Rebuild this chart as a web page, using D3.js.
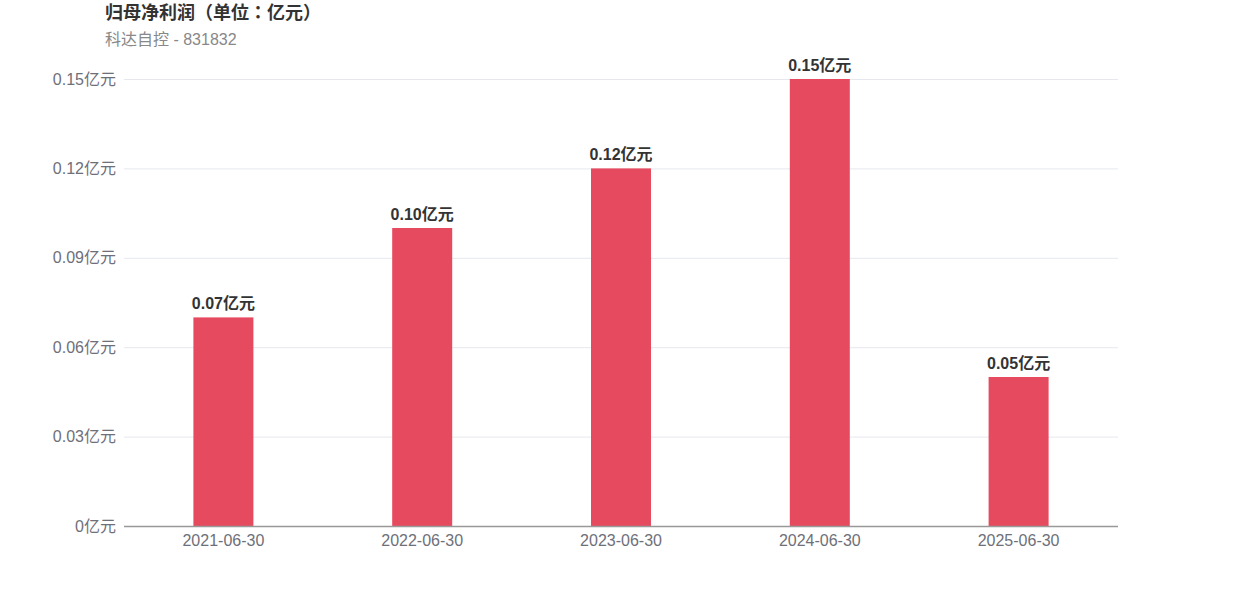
<!DOCTYPE html>
<html><head><meta charset="utf-8">
<script src="https://cdn.jsdelivr.net/npm/d3@7/dist/d3.min.js"></script>
<style>body{margin:0;background:#fff;}svg{display:block;font-family:"Liberation Sans","Noto Sans CJK SC",sans-serif;}</style>
</head><body>
<svg id="c" width="1242" height="596"></svg>
<script>
const categories = ["2021-06-30","2022-06-30","2023-06-30","2024-06-30","2025-06-30"];
const values = [0.07, 0.10, 0.12, 0.15, 0.05];
const yTicks = [0, 0.03, 0.06, 0.09, 0.12, 0.15];
const yTickLabels = ["0亿元","0.03亿元","0.06亿元","0.09亿元","0.12亿元","0.15亿元"];
const valueLabels = ["0.07亿元","0.10亿元","0.12亿元","0.15亿元","0.05亿元"];

const svg = d3.select("#c");
const m = {left:124, right:1118, top:79, bottom:526};
const x = d3.scaleBand().domain(categories).range([m.left, m.right]);
const y = d3.scaleLinear().domain([0, 0.15]).range([m.bottom, m.top]);
const barW = 60;

svg.append("text").attr("x",105).attr("y",19).attr("font-size",18).attr("font-weight","bold").attr("fill","#333")
  .style("font-family","'Liberation Sans','Noto Sans CJK JP',sans-serif").text("归母净利润（单位：亿元）");
svg.append("text").attr("x",105).attr("y",45).attr("font-size",16).attr("fill","#888").text("科达自控 - 831832");

// grid
svg.append("g").selectAll("line").data(yTicks.filter(d=>d>0)).join("line")
  .attr("x1",m.left).attr("x2",m.right).attr("y1",d=>y(d)+0.5).attr("y2",d=>y(d)+0.5)
  .attr("stroke","#e6e8ee").attr("stroke-width",1);

// y labels
svg.append("g").selectAll("text").data(yTicks).join("text")
  .attr("x",116).attr("y",d=>y(d)).attr("dy","0.35em").attr("text-anchor","end")
  .attr("font-size",16).attr("fill","#6e7079").text((d,i)=>yTickLabels[i]);

// bars
svg.append("g").selectAll("rect").data(values).join("rect")
  .attr("x",(d,i)=>x(categories[i])+x.bandwidth()/2-barW/2).attr("width",barW)
  .attr("y",d=>y(d)).attr("height",d=>y(0)-y(d)).attr("fill","#e64a5e");

// value labels
svg.append("g").selectAll("text").data(values).join("text")
  .attr("x",(d,i)=>x(categories[i])+x.bandwidth()/2).attr("y",d=>y(d)-8)
  .attr("text-anchor","middle").attr("font-size",16).attr("font-weight","bold").attr("fill","#333")
  .text((d,i)=>valueLabels[i]);

// x axis
svg.append("line").attr("x1",m.left).attr("x2",m.right).attr("y1",m.bottom+0.5).attr("y2",m.bottom+0.5)
  .attr("stroke","#999").attr("stroke-width",1.5);
svg.append("g").selectAll("text").data(categories).join("text")
  .attr("x",d=>x(d)+x.bandwidth()/2).attr("y",546).attr("text-anchor","middle")
  .attr("font-size",16).attr("fill","#6e7079").text(d=>d);
</script>
</body></html>
